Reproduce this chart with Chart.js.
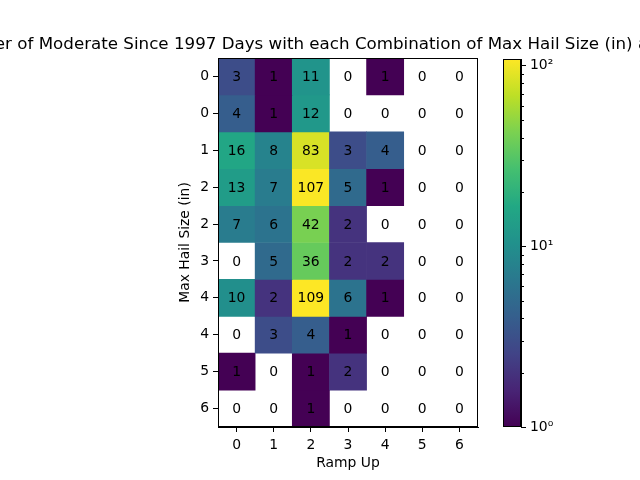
<!DOCTYPE html>
<html>
<head>
<meta charset="utf-8">
<script src="https://cdn.jsdelivr.net/npm/chart.js@4.4.0/dist/chart.umd.min.js"></script>
<style>
  html, body { margin: 0; padding: 0; background: #fff; }
  #wrap { position: relative; width: 640px; height: 480px; }
  canvas { position: absolute; left: 0; top: 0; }
</style>
</head>
<body>
<div id="wrap">
  <canvas id="heat" width="640" height="480"></canvas>
  <canvas id="cbar" width="640" height="480"></canvas>
</div>
<script>
// columns (x) and rows (y) as labelled on the axes
const rampUp = ["0", "1", "2", "3", "4", "5", "6"];
const hailSize = ["0", "0", "1", "2", "2", "3", "4", "4", "5", "6"];

// day counts, one array per hail-size row, one value per ramp-up column
const row0 = [3, 1, 11, 0, 1, 0, 0];
const row1 = [4, 1, 12, 0, 0, 0, 0];
const row2 = [16, 8, 83, 3, 4, 0, 0];
const row3 = [13, 7, 107, 5, 1, 0, 0];
const row4 = [7, 6, 42, 2, 0, 0, 0];
const row5 = [0, 5, 36, 2, 2, 0, 0];
const row6 = [10, 2, 109, 6, 1, 0, 0];
const row7 = [0, 3, 4, 1, 0, 0, 0];
const row8 = [1, 0, 1, 2, 0, 0, 0];
const row9 = [0, 0, 1, 0, 0, 0, 0];
const counts = [row0, row1, row2, row3, row4, row5, row6, row7, row8, row9];

// log colour scale range and colorbar ticks
const colorMin = 1;
const colorMax = 109;
const cbarTicks = [1, 2, 3, 4, 5, 6, 7, 8, 9, 10, 20, 30, 40, 50, 60, 70, 80, 90, 100];
const cbarLabels = { 1: "10\u2070", 10: "10\u00b9", 100: "10\u00b2" };

const title = "Number of Moderate Since 1997 Days with each Combination of Max Hail Size (in) and Ramp Up";

// viridis stops
const viridis = ["#440154", "#482475", "#414487", "#355f8d", "#2a788e", "#21918c",
                 "#22a884", "#44bf70", "#7ad151", "#bddf26", "#fde725"];

Chart.defaults.font.family = "'DejaVu Sans', sans-serif";
Chart.defaults.font.size = 13.9;
Chart.defaults.color = "#000";

function hexRgb(h) {
  return [1, 3, 5].map((i) => parseInt(h.slice(i, i + 2), 16));
}

function viridisAt(t) {
  t = Math.max(0, Math.min(1, t));
  const p = t * (viridis.length - 1);
  const i = Math.min(Math.floor(p), viridis.length - 2);
  const f = p - i;
  const a = hexRgb(viridis[i]);
  const b = hexRgb(viridis[i + 1]);
  const c = a.map((v, k) => Math.round(v + (b[k] - v) * f));
  return `rgb(${c[0]},${c[1]},${c[2]})`;
}

// zero counts are masked (white) like a LogNorm
function cellColor(v) {
  if (v <= 0) return "rgba(255,255,255,0)";
  return viridisAt(Math.log(v / colorMin) / Math.log(colorMax / colorMin));
}

// black box round the plot area
const frame = {
  id: "frame",
  afterDraw(chart) {
    const { ctx, chartArea: a } = chart;
    ctx.save();
    ctx.strokeStyle = "#000";
    ctx.lineWidth = 1;
    ctx.strokeRect(Math.round(a.left) + 0.5, Math.round(a.top) + 0.5,
      Math.round(a.right - a.left) - 1, Math.round(a.bottom - a.top) - 1);
    ctx.restore();
  },
};

// numbers in each cell
const cellText = {
  id: "cellText",
  afterDatasetsDraw(chart) {
    const { ctx, scales: { x, y } } = chart;
    ctx.save();
    ctx.font = "13.9px 'DejaVu Sans', sans-serif";
    ctx.fillStyle = "#000";
    ctx.textAlign = "center";
    ctx.textBaseline = "middle";
    counts.forEach((row, r) => {
      row.forEach((v, c) => {
        ctx.fillText(String(v), x.getPixelForValue(c), y.getPixelForValue(r) + 1);
      });
    });
    ctx.restore();
  },
};

// title centred over the axes, allowed to run off the canvas
const axesTitle = {
  id: "axesTitle",
  afterDraw(chart) {
    const { ctx, chartArea: a } = chart;
    ctx.save();
    ctx.font = "16.7px 'DejaVu Sans', sans-serif";
    ctx.fillStyle = "#000";
    ctx.textAlign = "center";
    ctx.textBaseline = "alphabetic";
    ctx.fillText(title, (a.left + a.right) / 2, a.top - 9);
    ctx.restore();
  },
};

// shorter minor ticks on the colorbar
const minorTicks = {
  id: "minorTicks",
  afterDraw(chart) {
    const { ctx, chartArea: a, scales: { y } } = chart;
    ctx.save();
    ctx.strokeStyle = "#000";
    ctx.lineWidth = 1;
    cbarTicks.filter((v) => !cbarLabels[v]).forEach((v) => {
      const py = Math.round(y.getPixelForValue(v)) + 0.5;
      ctx.beginPath();
      ctx.moveTo(a.right, py);
      ctx.lineTo(a.right + 3, py);
      ctx.stroke();
    });
    ctx.restore();
  },
};

const datasets = hailSize.map((lab, r) => ({
  label: "Max Hail Size " + lab,
  data: rampUp.map(() => [r - 0.5, r + 0.5]),
  backgroundColor: counts[r].map(cellColor),
  borderWidth: 0,
  grouped: false,
  barPercentage: 1,
  categoryPercentage: 1,
}));

new Chart(document.getElementById("heat"), {
  type: "bar",
  data: { labels: rampUp, datasets },
  options: {
    responsive: false,
    animation: false,
    layout: { padding: { left: 177, top: 58, right: 162, bottom: 0 } },
    plugins: { legend: { display: false }, tooltip: { enabled: false } },
    scales: {
      x: {
        offset: true,
        grid: { offset: false, drawOnChartArea: false, tickLength: 5, tickColor: "#000" },
        border: { color: "#000" },
        ticks: { padding: 5, maxRotation: 0 },
        title: { display: true, text: "Ramp Up", padding: { top: 0, bottom: 8 } },
        afterFit: (s) => { s.height = 53; },
      },
      y: {
        type: "linear",
        reverse: true,
        min: -0.5,
        max: 9.5,
        afterBuildTicks: (s) => { s.ticks = hailSize.map((_, i) => ({ value: i })); },
        grid: { drawOnChartArea: false, tickLength: 5, tickColor: "#000" },
        border: { color: "#000" },
        ticks: { padding: 4, autoSkip: false, callback: (v) => hailSize[Math.round(v)] },
        title: { display: true, text: "Max Hail Size (in)", padding: 0 },
        afterFit: (s) => { s.width = 41; },
      },
    },
  },
  plugins: [cellText, frame, axesTitle],
});

// colorbar: a single floating bar on a log axis filled with the colormap
new Chart(document.getElementById("cbar"), {
  type: "bar",
  data: {
    labels: [""],
    datasets: [{
      data: [[colorMin, colorMax]],
      backgroundColor: (c) => {
        const area = c.chart.chartArea;
        if (!area) return viridis[0];
        const g = c.chart.ctx.createLinearGradient(0, area.bottom, 0, area.top);
        viridis.forEach((col, i) => g.addColorStop(i / (viridis.length - 1), col));
        return g;
      },
      borderWidth: 0,
      barPercentage: 1,
      categoryPercentage: 1,
    }],
  },
  options: {
    responsive: false,
    animation: false,
    layout: { padding: { left: 503, top: 59, right: 0, bottom: 53 } },
    plugins: { legend: { display: false }, tooltip: { enabled: false } },
    scales: {
      x: { display: false },
      y: {
        type: "logarithmic",
        position: "right",
        min: colorMin,
        max: colorMax,
        afterBuildTicks: (s) => { s.ticks = cbarTicks.map((v) => ({ value: v })); },
        grid: {
          drawOnChartArea: false,
          tickLength: 5,
          tickColor: (c) => (c.tick && cbarLabels[c.tick.value] ? "#000" : "rgba(0,0,0,0)"),
        },
        border: { color: "#000" },
        ticks: { padding: 4, autoSkip: false, callback: (v) => cbarLabels[v] || "" },
        afterFit: (s) => { s.width = 119; },
      },
    },
  },
  plugins: [frame, minorTicks],
});
</script>
</body>
</html>
